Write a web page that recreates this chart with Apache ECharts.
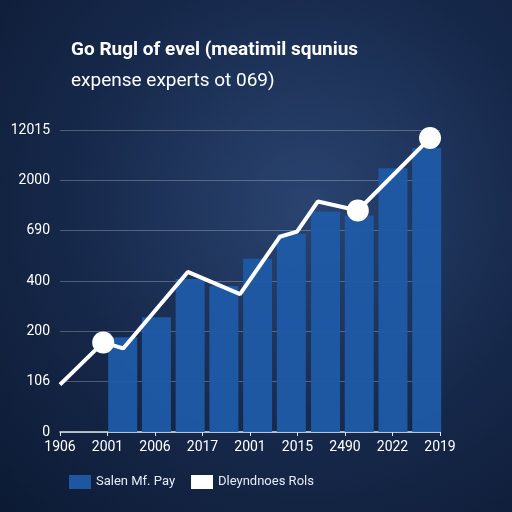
<!DOCTYPE html>
<html><head><meta charset="utf-8">
<script src="https://cdn.jsdelivr.net/npm/echarts@6/dist/echarts.min.js"></script>
<style>
html,body{margin:0;padding:0;}
#c{width:512px;height:512px;background:radial-gradient(ellipse at 60% 40%,#2a4470 0%,#16284a 55%,#0c1a33 100%);}
</style>
</head><body>
<div id="c"></div>
<script>
// tick labels (x positions 0..8, y positions 0..6)
var xLabels = ['1906', '2001', '2006', '2017', '2001', '2015', '2490', '2022', '2019'];
var yLabels = ['0', '106', '200', '400', '690', '2000', '12015'];
// bars: x position and height (in y-label steps)
var barX = [1.32, 2.03, 2.74, 3.45, 4.16, 4.87, 5.59, 6.30, 7.01, 7.72];
var barY = [1.88, 2.28, 3.04, 2.9, 3.44, 3.94, 4.38, 4.3, 5.24, 5.64];
// line
var lineX = [0, 0.91, 1.33, 2.69, 3.79, 4.63, 4.99, 5.43, 6.27, 7.79];
var lineY = [0.94, 1.78, 1.66, 3.18, 2.74, 3.88, 3.98, 4.58, 4.4, 5.84];
var markIdx = [1, 8, 9];

var barData = barX.map(function (x, i) { return [x, barY[i]]; });
var lineData = lineX.map(function (x, i) {
    return { value: [x, lineY[i]], symbolSize: markIdx.indexOf(i) >= 0 ? 22 : 0 };
});

var myChart = echarts.init(document.getElementById('c'));
var option = {
    backgroundColor: 'transparent',
    title: {
        text: 'Go Rugl of evel (meatimil squnius',
        subtext: 'expense experts ot 069)',
        left: 66, top: 36, itemGap: 12,
        textStyle: { color: '#fff', fontSize: 19, fontWeight: 'bold', fontFamily: 'Roboto' },
        subtextStyle: { color: '#fff', fontSize: 19, fontFamily: 'Roboto' }
    },
    legend: {
        bottom: 18, left: 64, itemWidth: 22, itemHeight: 14, itemGap: 16,
        textStyle: { color: '#e6ecf5', fontSize: 13, fontFamily: 'Roboto' },
        data: [
            { name: 'Salen Mf. Pay', icon: 'rect', itemStyle: { color: '#1f5aa6' } },
            { name: 'Dleyndnoes Rols', icon: 'rect', itemStyle: { color: '#fff' } }
        ]
    },
    grid: { left: 60, right: 72, top: 130, bottom: 80 },
    xAxis: {
        type: 'value', min: 0, max: 8, interval: 1,
        axisLine: { show: true, lineStyle: { color: '#dfe6f0', width: 1.5 } },
        axisTick: { show: true, length: 4, lineStyle: { color: '#dfe6f0' } },
        axisLabel: { color: '#fff', fontSize: 14, margin: 8, fontFamily: 'Roboto',
            formatter: function (v) { return xLabels[v] || ''; } },
        splitLine: { show: false }
    },
    yAxis: {
        type: 'value', min: 0, max: 6, interval: 1,
        axisLine: { show: false },
        axisTick: { show: false },
        axisLabel: { color: '#fff', fontSize: 14, margin: 10, fontFamily: 'Roboto',
            formatter: function (v) { return yLabels[v]; } },
        splitLine: { lineStyle: { color: 'rgba(255,255,255,0.25)', width: 1 } }
    },
    series: [
        {
            name: 'Salen Mf. Pay', type: 'bar', data: barData, barWidth: 29,
            itemStyle: { color: '#1f5aa6', opacity: 0.95 }
        },
        {
            name: 'Dleyndnoes Rols', type: 'line', data: lineData, symbol: 'circle',
            lineStyle: { color: '#fff', width: 4 },
            itemStyle: { color: '#fff' }, z: 5
        }
    ]
};
myChart.setOption(option);
</script>
</body></html>
